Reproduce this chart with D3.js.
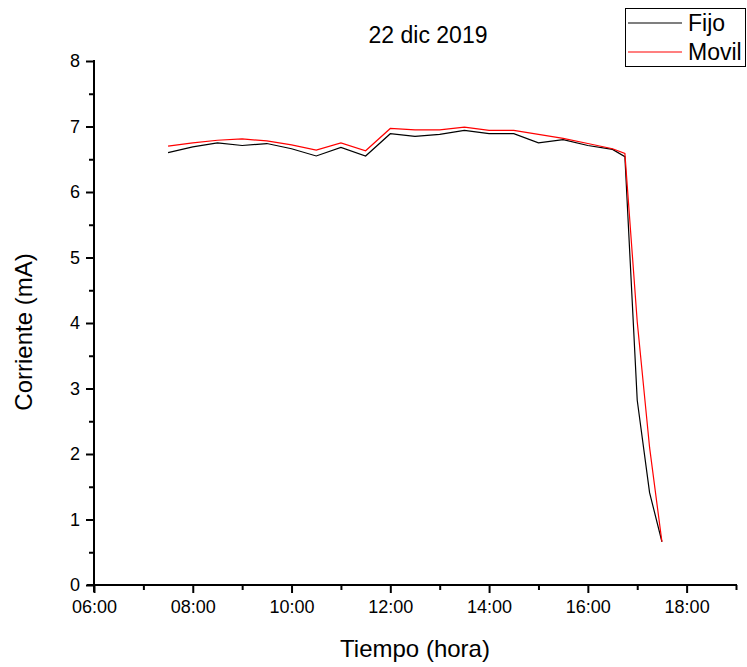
<!DOCTYPE html>
<html>
<head>
<meta charset="utf-8">
<script src="https://cdn.jsdelivr.net/npm/d3@7"></script>
<style>
  body { margin: 0; background: #fff; }
  svg { font-family: Arial, "Liberation Sans", sans-serif; }
</style>
</head>
<body>
<svg id="chart" width="747" height="667"></svg>
<script>
var horas = ["07:30","08:00","08:30","09:00","09:30","10:00","10:30","11:00","11:30","12:00",
             "12:30","13:00","13:30","14:00","14:30","15:00","15:30","16:00","16:30","16:45",
             "17:00","17:15","17:30"];
var fijo  = [6.60,6.69,6.75,6.71,6.74,6.66,6.55,6.68,6.55,6.89,
             6.85,6.88,6.94,6.89,6.89,6.75,6.80,6.71,6.65,6.54,
             2.82,1.41,0.66];
var movil = [6.70,6.75,6.79,6.81,6.78,6.72,6.64,6.75,6.63,6.97,
             6.95,6.95,6.99,6.94,6.94,6.88,6.82,6.74,6.66,6.59,
             4.02,2.10,0.66];
var series = [
  {name: "Fijo", color: "#000", values: fijo},
  {name: "Movil", color: "#ff0000", values: movil}
];
var xTickLabels = ["06:00","08:00","10:00","12:00","14:00","16:00","18:00"];

var parse = d3.timeParse("%Y-%m-%d %H:%M");
function t(h) { return parse("2019-12-22 " + h); }

var svg = d3.select("#chart");

var x = d3.scaleTime().domain([t("06:00"), t("19:00")]).range([94, 736]);
var y = d3.scaleLinear().domain([0, 8]).range([585, 61]);

// plot lines
var line = d3.line()
  .x(function(d, i) { return x(t(horas[i])); })
  .y(function(d) { return y(d); });

series.forEach(function(s) {
  svg.append("path")
    .attr("d", line(s.values))
    .attr("fill", "none")
    .attr("stroke", s.color)
    .attr("stroke-width", 1.2);
});

// x axis
var xMajor = d3.axisBottom(x)
  .tickValues(xTickLabels.map(t))
  .tickFormat(d3.timeFormat("%H:%M"))
  .tickSize(8).tickSizeOuter(0).tickPadding(7);
var gx = svg.append("g").attr("transform", "translate(0,585)").call(xMajor);
gx.selectAll("text").attr("font-size", 18).attr("fill", "#000");
gx.selectAll("line").attr("stroke-width", 2);
gx.select(".domain").attr("stroke-width", 2).attr("d", "M87,0H737");

var xMinor = d3.axisBottom(x)
  .tickValues(["07:00","09:00","11:00","13:00","15:00","17:00","19:00"].map(t))
  .tickFormat("").tickSize(5).tickSizeOuter(0);
var gxm = svg.append("g").attr("transform", "translate(0,585)").call(xMinor);
gxm.select(".domain").remove();
gxm.selectAll("line").attr("stroke-width", 2);

// y axis
var yMajor = d3.axisLeft(y).ticks(8).tickSize(8).tickSizeOuter(0).tickPadding(6);
var gy = svg.append("g").attr("transform", "translate(94,0)").call(yMajor);
gy.selectAll("text").attr("font-size", 18).attr("fill", "#000");
gy.selectAll("line").attr("stroke-width", 2);
gy.select(".domain").attr("stroke-width", 2).attr("d", "M0,60V592");

var yMinor = d3.axisLeft(y).tickValues(d3.range(0.5, 8, 1)).tickFormat("").tickSize(5).tickSizeOuter(0);
var gym = svg.append("g").attr("transform", "translate(94,0)").call(yMinor);
gym.select(".domain").remove();
gym.selectAll("line").attr("stroke-width", 2);

// titles
svg.append("text").attr("x", 428).attr("y", 43).attr("text-anchor", "middle")
  .attr("font-size", 23).text("22 dic 2019");
svg.append("text").attr("x", 415).attr("y", 657).attr("text-anchor", "middle")
  .attr("font-size", 24).text("Tiempo (hora)");
svg.append("text").attr("transform", "translate(32,332) rotate(-90)")
  .attr("text-anchor", "middle").attr("font-size", 24).text("Corriente (mA)");

// legend
var lg = svg.append("g");
lg.append("rect").attr("x", 625.5).attr("y", 8.5).attr("width", 120).attr("height", 58)
  .attr("fill", "#fff").attr("stroke", "#000").attr("stroke-width", 1);
series.forEach(function(s, i) {
  var yy = 23 + i * 29;
  lg.append("line").attr("x1", 628).attr("x2", 682).attr("y1", yy).attr("y2", yy)
    .attr("stroke", s.color).attr("stroke-width", 1.2);
  lg.append("text").attr("x", 688).attr("y", yy + 8).attr("font-size", 23).text(s.name);
});
</script>
</body>
</html>
